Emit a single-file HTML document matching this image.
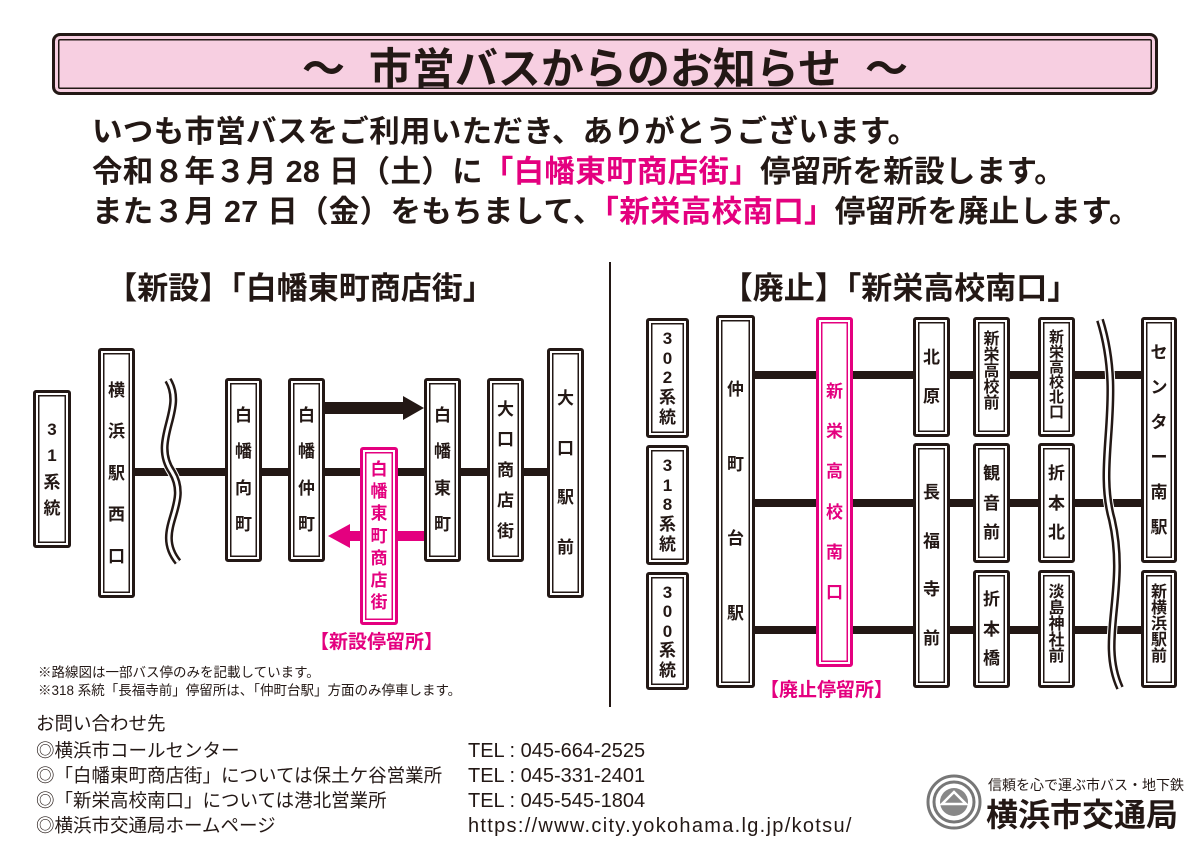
<!DOCTYPE html>
<html><head><meta charset="utf-8"><style>
body{margin:0;width:1200px;height:856px;background:#fff;position:relative;overflow:hidden;font-family:"Liberation Sans","Noto Sans CJK JP",sans-serif;color:#231815}
.a{position:absolute;white-space:nowrap;line-height:1.2}
.b{position:absolute;box-sizing:border-box;border:3px solid #231815;box-shadow:inset 0 0 0 2px #fff,inset 0 0 0 3.5px #231815;background:#fff;border-radius:3px;display:flex;flex-direction:column;align-items:center;justify-content:space-evenly;font-size:17px;font-weight:bold;line-height:1;padding:6px 0}
.b.t{justify-content:flex-start;padding-top:12px;font-size:16px}
.b.p{border-color:#e4007f;box-shadow:inset 0 0 0 2px #fff,inset 0 0 0 3.5px #e4007f;color:#e4007f}
.pk{color:#e4007f}
.i{font-size:30.5px;font-weight:bold;letter-spacing:0.3px}
.f{font-size:18.5px}
.tl{font-size:20px}
</style></head><body>
<div class="a" style="left:52px;top:33px;width:1106px;height:62px;box-sizing:border-box;border:3px solid #231815;border-radius:8px;background:#f7cfe1;box-shadow:inset 0 0 0 3px #f7cfe1,inset 0 0 0 4.5px #231815"></div>
<div class="a" style="left:52px;top:45px;width:1106px;text-align:center;font-size:43px;font-weight:bold;line-height:50px">～&nbsp; 市営バスからのお知らせ &nbsp;～</div>
<div class="a i" style="left:92px;top:114px">いつも市営バスをご利用いただき、ありがとうございます。</div>
<div class="a i" style="left:92px;top:154px">令和８年３月 28 日（土）に<span class="pk">「白幡東町商店街」</span>停留所を新設します。</div>
<div class="a i" style="left:92px;top:194px">また３月 27 日（金）をもちまして、<span class="pk">「新栄高校南口」</span>停留所を廃止します。</div>
<div class="a" style="left:100px;top:270px;width:400px;text-align:center;font-size:31px;font-weight:bold">【新設】「白幡東町商店街」</div>
<div class="a" style="left:700px;top:270px;width:400px;text-align:center;font-size:31px;font-weight:bold">【廃止】「新栄高校南口」</div>
<div class="a" style="left:609px;top:262px;width:2px;height:445px;background:#231815"></div>
<svg class="a" style="left:0;top:0" width="1200" height="856">
<line x1="135" y1="472" x2="547" y2="472" stroke="#231815" stroke-width="8"/>
<path d="M168 380 C186 410,150 440,172 472 C192 505,152 530,178 562" fill="none" stroke="#fff" stroke-width="10"/>
<path d="M168 380 C186 410,150 440,172 472 C192 505,152 530,178 562" fill="none" stroke="#231815" stroke-width="8"/>
<path d="M168 380 C186 410,150 440,172 472 C192 505,152 530,178 562" fill="none" stroke="#fff" stroke-width="3"/>
<rect x="325" y="402" width="80" height="12" fill="#231815"/><polygon points="403,396 424,408 403,420" fill="#231815"/>
<rect x="348" y="531" width="76" height="10" fill="#e4007f"/><polygon points="350,524 328,536 350,548" fill="#e4007f"/>
<g stroke="#231815" stroke-width="8"><line x1="755" y1="375" x2="1143" y2="375"/><line x1="755" y1="503" x2="1143" y2="503"/><line x1="755" y1="630" x2="1143" y2="630"/></g>
<path d="M1100 320 C1125 400,1095 460,1112 520 C1128 590,1098 640,1120 688" fill="none" stroke="#fff" stroke-width="10"/>
<path d="M1100 320 C1125 400,1095 460,1112 520 C1128 590,1098 640,1120 688" fill="none" stroke="#231815" stroke-width="8"/>
<path d="M1100 320 C1125 400,1095 460,1112 520 C1128 590,1098 640,1120 688" fill="none" stroke="#fff" stroke-width="3"/>
</svg>
<div class="b" style="left:33px;top:390px;width:38px;height:158px;padding:18px 0"><span>3</span><span>1</span><span>系</span><span>統</span></div>
<div class="b" style="left:98px;top:348px;width:37px;height:250px"><span>横</span><span>浜</span><span>駅</span><span>西</span><span>口</span></div>
<div class="b" style="left:225px;top:378px;width:37px;height:184px"><span>白</span><span>幡</span><span>向</span><span>町</span></div>
<div class="b" style="left:288px;top:378px;width:37px;height:184px"><span>白</span><span>幡</span><span>仲</span><span>町</span></div>
<div class="b" style="left:424px;top:378px;width:37px;height:184px"><span>白</span><span>幡</span><span>東</span><span>町</span></div>
<div class="b" style="left:487px;top:378px;width:37px;height:184px"><span>大</span><span>口</span><span>商</span><span>店</span><span>街</span></div>
<div class="b" style="left:547px;top:348px;width:37px;height:250px"><span>大</span><span>口</span><span>駅</span><span>前</span></div>
<div class="b p" style="left:360px;top:447px;width:38px;height:178px"><span>白</span><span>幡</span><span>東</span><span>町</span><span>商</span><span>店</span><span>街</span></div>
<div class="a pk" style="left:310px;top:632px;font-size:19px;font-weight:bold">【新設停留所】</div>
<div class="a" style="left:38px;top:665px;font-size:13.5px">※路線図は一部バス停のみを記載しています。</div>
<div class="a" style="left:38px;top:683px;font-size:13.5px">※318 系統「長福寺前」停留所は、「仲町台駅」方面のみ停車します。</div>

<div class="b" style="left:646px;top:318px;width:43px;height:120px"><span>3</span><span>0</span><span>2</span><span>系</span><span>統</span></div>
<div class="b" style="left:646px;top:445px;width:43px;height:120px"><span>3</span><span>1</span><span>8</span><span>系</span><span>統</span></div>
<div class="b" style="left:646px;top:572px;width:43px;height:118px"><span>3</span><span>0</span><span>0</span><span>系</span><span>統</span></div>
<div class="b" style="left:716px;top:315px;width:39px;height:373px"><span>仲</span><span>町</span><span>台</span><span>駅</span></div>
<div class="b p" style="left:816px;top:317px;width:37px;height:350px;padding:40px 0"><span>新</span><span>栄</span><span>高</span><span>校</span><span>南</span><span>口</span></div>
<div class="a pk" style="left:760px;top:680px;font-size:19px;font-weight:bold">【廃止停留所】</div>
<div class="b" style="left:913px;top:317px;width:37px;height:120px"><span>北</span><span>原</span></div>
<div class="b t" style="left:973px;top:317px;width:37px;height:120px"><span>新</span><span>栄</span><span>高</span><span>校</span><span>前</span></div>
<div class="b t" style="left:1038px;top:317px;width:37px;height:120px;font-size:15px;padding-top:10px"><span>新</span><span>栄</span><span>高</span><span>校</span><span>北</span><span>口</span></div>
<div class="b" style="left:1141px;top:317px;width:36px;height:246px"><span>セ</span><span>ン</span><span>タ</span><span>ー</span><span>南</span><span>駅</span></div>
<div class="b" style="left:913px;top:443px;width:37px;height:245px"><span>長</span><span>福</span><span>寺</span><span>前</span></div>
<div class="b" style="left:973px;top:443px;width:37px;height:120px"><span>観</span><span>音</span><span>前</span></div>
<div class="b" style="left:1038px;top:443px;width:37px;height:120px"><span>折</span><span>本</span><span>北</span></div>
<div class="b" style="left:973px;top:570px;width:37px;height:118px"><span>折</span><span>本</span><span>橋</span></div>
<div class="b t" style="left:1038px;top:570px;width:37px;height:118px"><span>淡</span><span>島</span><span>神</span><span>社</span><span>前</span></div>
<div class="b t" style="left:1141px;top:570px;width:36px;height:118px"><span>新</span><span>横</span><span>浜</span><span>駅</span><span>前</span></div>

<div class="a f" style="left:36px;top:713px">お問い合わせ先</div>
<div class="a f" style="left:36px;top:740px">◎横浜市コールセンター</div>
<div class="a f" style="left:36px;top:765px">◎「白幡東町商店街」については保土ケ谷営業所</div>
<div class="a f" style="left:36px;top:790px">◎「新栄高校南口」については港北営業所</div>
<div class="a f" style="left:36px;top:815px">◎横浜市交通局ホームページ</div>
<div class="a tl" style="left:468px;top:739px">TEL : 045-664-2525</div>
<div class="a tl" style="left:468px;top:764px">TEL : 045-331-2401</div>
<div class="a tl" style="left:468px;top:789px">TEL : 045-545-1804</div>
<div class="a tl" style="left:468px;top:814px;letter-spacing:1.3px">https://www.city.yokohama.lg.jp/kotsu/</div>
<svg class="a" style="left:926px;top:774px" width="56" height="56"><circle cx="28" cy="28" r="26" fill="#fff" stroke="#777" stroke-width="3"/><circle cx="28" cy="28" r="20" fill="none" stroke="#777" stroke-width="3"/><circle cx="28" cy="28" r="14" fill="#888"/><polygon points="28,18 40,30 16,30" fill="none" stroke="#fff" stroke-width="2.5"/></svg>
<div class="a" style="left:988px;top:777px;font-size:14px">信頼を心で運ぶ市バス・地下鉄</div>
<div class="a" style="left:986px;top:796px;font-size:32px;font-weight:bold">横浜市交通局</div>
</body></html>
